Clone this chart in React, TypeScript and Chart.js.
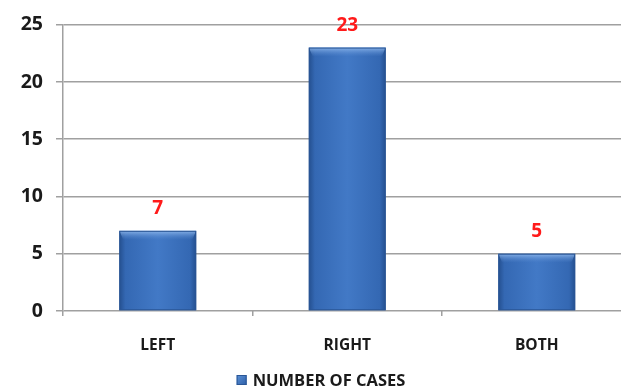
import React, { useEffect, useRef } from "react";
import { Chart, registerables } from "chart.js";

Chart.register(...registerables);

const categories = ["LEFT", "RIGHT", "BOTH"];
const seriesName = "NUMBER OF CASES";
const cases = [7, 23, 5];
const yTicks = [0, 5, 10, 15, 20, 25];

const FONT = "'Open Sans', sans-serif";

const barStyle = {
  id: "barStyle",
  afterDatasetsDraw(chart: any) {
    const ctx = chart.ctx;
    const meta = chart.getDatasetMeta(0);
    meta.data.forEach((bar: any, i: number) => {
      const { x, y, base, width } = bar.getProps(["x", "y", "base", "width"], true);
      const l = x - width / 2;
      const r = x + width / 2;
      const h = base - y;
      ctx.save();
      const g = ctx.createLinearGradient(l, 0, r, 0);
      g.addColorStop(0, "#244f8f");
      g.addColorStop(0.08, "#3468b3");
      g.addColorStop(0.5, "#4279c6");
      g.addColorStop(0.92, "#3468b3");
      g.addColorStop(1, "#244f8f");
      ctx.fillStyle = g;
      ctx.fillRect(l, y, width, h);
      // top bevel
      const bh = Math.min(9, h);
      const g2 = ctx.createLinearGradient(0, y, 0, y + bh);
      g2.addColorStop(0, "rgba(150,190,240,0.85)");
      g2.addColorStop(1, "rgba(90,140,210,0.0)");
      ctx.fillStyle = g2;
      ctx.beginPath();
      ctx.moveTo(l, y);
      ctx.lineTo(r, y);
      ctx.lineTo(r - 4, y + bh);
      ctx.lineTo(l + 4, y + bh);
      ctx.closePath();
      ctx.fill();
      ctx.strokeStyle = "#2a5696";
      ctx.lineWidth = 1;
      ctx.strokeRect(l + 0.5, y + 0.5, width - 1, h - 1);
      // value label
      ctx.fillStyle = "#ff1a1a";
      ctx.font = `bold 19px ${FONT}`;
      ctx.textAlign = "center";
      ctx.textBaseline = "middle";
      ctx.fillText(String(cases[i]), x, y - 22);
      ctx.restore();
    });
  },
};

const legendBox = {
  id: "legendBox",
  afterDraw(chart: any) {
    const ctx = chart.ctx;
    ctx.save();
    ctx.font = `bold 16.5px ${FONT}`;
    const tw = ctx.measureText(seriesName).width;
    const total = 10 + 6 + tw;
    const cx = 321;
    const cy = 380;
    const left = cx - total / 2;
    const g = ctx.createLinearGradient(left, cy - 5, left + 10, cy + 5);
    g.addColorStop(0, "#5d92d8");
    g.addColorStop(1, "#2c5ea6");
    ctx.fillStyle = g;
    ctx.fillRect(left, cy - 5, 10, 10);
    ctx.strokeStyle = "#2a5696";
    ctx.lineWidth = 1;
    ctx.strokeRect(left + 0.5, cy - 4.5, 9, 9);
    ctx.fillStyle = "#1a1a1a";
    ctx.textAlign = "left";
    ctx.textBaseline = "middle";
    ctx.fillText(seriesName, left + 16, cy + 1);
    ctx.restore();
  },
};

export default function App() {
  const ref = useRef<HTMLCanvasElement>(null);
  useEffect(() => {
    if (!ref.current) return;
    const chart = new Chart(ref.current, {
      type: "bar",
      data: {
        labels: categories,
        datasets: [
          {
            label: seriesName,
            data: cases,
            backgroundColor: "rgba(0,0,0,0)",
            borderWidth: 0,
            categoryPercentage: 1,
            barPercentage: 0.406,
          },
        ],
      },
      options: {
        responsive: false,
        animation: false,
        layout: { padding: { left: 0, right: 28.5, top: 20, bottom: 31 } },
        plugins: {
          legend: { display: false },
          tooltip: { enabled: false },
        },
        scales: {
          x: {
            grid: {
              drawOnChartArea: false,
              drawTicks: true,
              tickLength: 5,
              color: "#a0a0a0",
              lineWidth: 1.5,
            },
            border: { display: false },
            ticks: {
              color: "#1a1a1a",
              font: { family: FONT, weight: "bold", size: 15.5 },
              padding: 20,
            },
            afterFit: (s: any) => {
              s.height = 50;
            },
          },
          y: {
            min: 0,
            max: 25,
            afterBuildTicks: (s: any) => {
              s.ticks = yTicks.map((v) => ({ value: v }));
            },
            grid: {
              color: "#a0a0a0",
              lineWidth: 1.5,
              tickLength: 7,
            },
            border: { color: "#a0a0a0", width: 1.5 },
            ticks: {
              color: "#1a1a1a",
              font: { family: FONT, weight: "bold", size: 19.5 },
              padding: 13,
            },
            afterFit: (s: any) => {
              s.width = 63;
            },
          },
        },
      },
      plugins: [barStyle, legendBox],
    });
    return () => chart.destroy();
  }, []);
  return (
    <div
      style={{
        position: "fixed",
        left: 0,
        top: 0,
        width: 621,
        height: 392,
        overflow: "hidden",
        background: "#fff",
      }}
    >
      <canvas ref={ref} width={660} height={392} />
    </div>
  );
}
